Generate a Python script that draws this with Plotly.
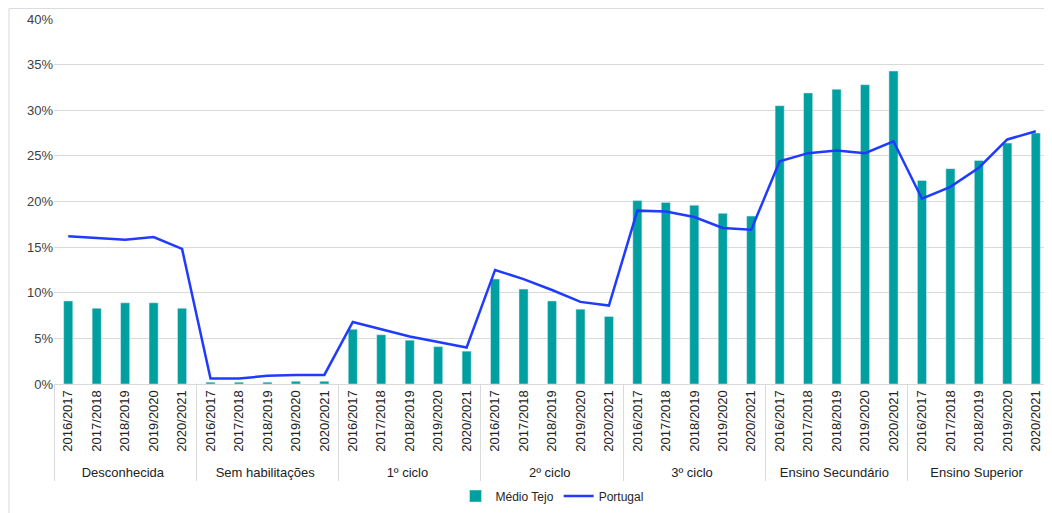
import plotly.graph_objects as go

# categorias
niveis = ["Desconhecida", "Sem habilitações", "1º ciclo", "2º ciclo",
          "3º ciclo", "Ensino Secundário", "Ensino Superior"]
anos = ["2016/2017", "2017/2018", "2018/2019", "2019/2020", "2020/2021"]

# valores (%)
medio_tejo = [9.1, 8.3, 8.9, 8.9, 8.3,
              0.2, 0.2, 0.2, 0.3, 0.3,
              6.0, 5.4, 4.8, 4.1, 3.6,
              11.5, 10.4, 9.1, 8.2, 7.4,
              20.1, 19.9, 19.6, 18.7, 18.4,
              30.5, 31.9, 32.3, 32.8, 34.3,
              22.3, 23.6, 24.5, 26.4, 27.5]
portugal = [16.2, 16.0, 15.8, 16.1, 14.8,
            0.6, 0.6, 0.9, 1.0, 1.0,
            6.8, 6.0, 5.2, 4.6, 4.0,
            12.5, 11.5, 10.3, 9.0, 8.6,
            19.0, 18.9, 18.3, 17.1, 16.9,
            24.4, 25.3, 25.6, 25.3, 26.6,
            20.3, 21.6, 23.7, 26.8, 27.7]

x_nivel = [n for n in niveis for a in anos]
x_ano = [a for n in niveis for a in anos]

fig = go.Figure()
fig.add_trace(go.Bar(
    x=[x_nivel, x_ano], y=[v / 100 for v in medio_tejo],
    name="Médio Tejo", marker_color="#00A0A0",
))
fig.add_trace(go.Scatter(
    x=[x_nivel, x_ano], y=[v / 100 for v in portugal],
    name="Portugal", mode="lines",
    line=dict(color="#1F3BFF", width=2.5),
))

# a página html tem 8px de margem no body -> figura um pouco menor
fig.update_layout(
    width=1044, height=505,
    margin=dict(l=46, r=2, t=11, b=129),
    plot_bgcolor="white", paper_bgcolor="white",
    font=dict(family="Liberation Sans, Arial", size=13, color="#333333"),
    bargap=0.68,
    showlegend=True,
    legend=dict(orientation="h", x=0.5, xanchor="center", y=-0.307, yanchor="middle",
                font=dict(size=12, color="#262626")),
)
fig.update_yaxes(
    range=[0, 0.40], dtick=0.05, tickformat=".0%",
    showgrid=True, gridcolor="#D9D9D9", gridwidth=1,
    zeroline=False, ticks="", tickfont=dict(size=13, color="#404040"),
    automargin=False,
)
fig.update_xaxes(
    type="multicategory", tickangle=-90,
    tickfont=dict(size=13, color="#222222"),
    showline=True, linecolor="#D9D9D9",
    showdividers=True, dividercolor="#D9D9D9", dividerwidth=1,
    automargin=False,
)

# moldura exterior (apenas topo e esquerda visíveis)
fig.add_shape(type="line", xref="paper", yref="paper",
              x0=-0.0452, x1=1.01, y0=1.029, y1=1.029,
              line=dict(color="#D9D9D9", width=1))
fig.add_shape(type="line", xref="paper", yref="paper",
              x0=-0.0452, x1=-0.0452, y0=1.029, y1=-0.36,
              line=dict(color="#D9D9D9", width=1))

fig.write_html("out.html")
